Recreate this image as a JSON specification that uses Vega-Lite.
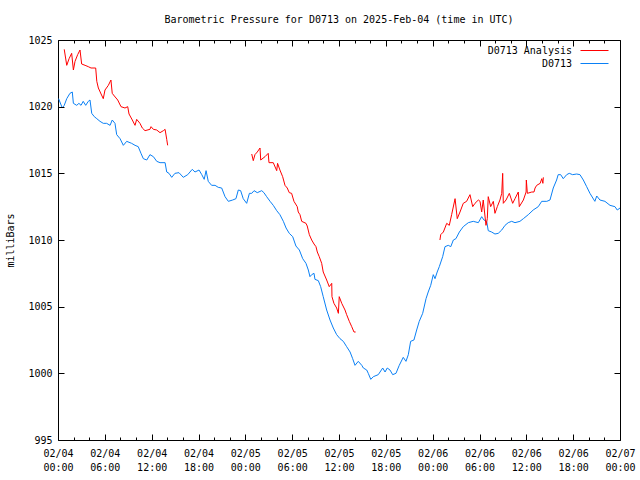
{
  "$schema": "https://vega.github.io/schema/vega-lite/v6.json",
  "width": 562,
  "height": 400,
  "autosize": "none",
  "padding": {"left": 58, "top": 40, "right": 20, "bottom": 40},
  "background": "white",
  "title": {"text": "Barometric Pressure for D0713 on 2025-Feb-04 (time in UTC)", "font": "DejaVu Sans Mono", "fontSize": 10, "fontWeight": "normal", "anchor": "middle", "offset": 10, "color": "black"},
  "config": {"view": {"stroke": "black", "strokeWidth": 1}, "font": "DejaVu Sans Mono"},
  "datasets": {
    "blue": [
      {"s":"D0713","h":0.08,"p":1020.6},{"s":"D0713","h":0.55,"p":1019.9},{"s":"D0713","h":0.8,"p":1020.1},{"s":"D0713","h":1.12,"p":1020.6},{"s":"D0713","h":1.53,"p":1021.0},{"s":"D0713","h":1.83,"p":1021.1},{"s":"D0713","h":1.97,"p":1020.25},{"s":"D0713","h":2.4,"p":1020.1},{"s":"D0713","h":2.68,"p":1020.25},{"s":"D0713","h":2.95,"p":1020.1},{"s":"D0713","h":3.23,"p":1020.4},{"s":"D0713","h":3.55,"p":1020.1},{"s":"D0713","h":3.88,"p":1020.4},{"s":"D0713","h":4.1,"p":1020.5},{"s":"D0713","h":4.32,"p":1019.5},{"s":"D0713","h":4.65,"p":1019.25},{"s":"D0713","h":4.97,"p":1019.1},{"s":"D0713","h":5.38,"p":1018.9},{"s":"D0713","h":5.8,"p":1018.75},{"s":"D0713","h":6.23,"p":1018.75},{"s":"D0713","h":6.67,"p":1018.6},{"s":"D0713","h":6.95,"p":1019.0},{"s":"D0713","h":7.3,"p":1018.75},{"s":"D0713","h":7.52,"p":1017.9},{"s":"D0713","h":7.95,"p":1017.6},{"s":"D0713","h":8.37,"p":1017.1},{"s":"D0713","h":8.8,"p":1017.4},{"s":"D0713","h":9.43,"p":1017.25},{"s":"D0713","h":9.87,"p":1017.1},{"s":"D0713","h":10.28,"p":1017.0},{"s":"D0713","h":10.63,"p":1016.5},{"s":"D0713","h":10.93,"p":1016.1},{"s":"D0713","h":11.37,"p":1016.0},{"s":"D0713","h":11.78,"p":1016.4},{"s":"D0713","h":12.22,"p":1016.25},{"s":"D0713","h":12.65,"p":1015.9},{"s":"D0713","h":13.07,"p":1015.8},{"s":"D0713","h":13.72,"p":1015.8},{"s":"D0713","h":13.93,"p":1015.1},{"s":"D0713","h":14.22,"p":1015.0},{"s":"D0713","h":14.57,"p":1014.7},{"s":"D0713","h":14.98,"p":1015.0},{"s":"D0713","h":15.5,"p":1015.05},{"s":"D0713","h":16.05,"p":1014.7},{"s":"D0713","h":16.62,"p":1014.9},{"s":"D0713","h":17.2,"p":1015.3},{"s":"D0713","h":17.55,"p":1015.1},{"s":"D0713","h":18.07,"p":1015.25},{"s":"D0713","h":18.42,"p":1014.9},{"s":"D0713","h":18.73,"p":1014.55},{"s":"D0713","h":18.97,"p":1015.2},{"s":"D0713","h":19.25,"p":1014.4},{"s":"D0713","h":19.68,"p":1014.1},{"s":"D0713","h":20.12,"p":1014.1},{"s":"D0713","h":20.53,"p":1013.95},{"s":"D0713","h":20.97,"p":1013.9},{"s":"D0713","h":21.4,"p":1013.25},{"s":"D0713","h":21.82,"p":1012.9},{"s":"D0713","h":22.38,"p":1013.0},{"s":"D0713","h":22.8,"p":1013.1},{"s":"D0713","h":23.1,"p":1013.75},{"s":"D0713","h":23.4,"p":1013.7},{"s":"D0713","h":23.73,"p":1013.1},
      {"s":"D0713","h":24.17,"p":1012.75},{"s":"D0713","h":24.52,"p":1013.5},{"s":"D0713","h":24.82,"p":1013.5},{"s":"D0713","h":25.12,"p":1013.7},{"s":"D0713","h":25.53,"p":1013.55},{"s":"D0713","h":26.1,"p":1013.7},{"s":"D0713","h":26.38,"p":1013.55},{"s":"D0713","h":26.73,"p":1013.25},{"s":"D0713","h":27.17,"p":1012.9},{"s":"D0713","h":27.58,"p":1012.6},{"s":"D0713","h":28.02,"p":1012.2},{"s":"D0713","h":28.43,"p":1011.9},{"s":"D0713","h":28.87,"p":1011.4},{"s":"D0713","h":29.22,"p":1010.9},{"s":"D0713","h":29.63,"p":1010.5},{"s":"D0713","h":30.07,"p":1010.25},{"s":"D0713","h":30.48,"p":1009.55},{"s":"D0713","h":30.92,"p":1009.25},{"s":"D0713","h":31.35,"p":1008.6},{"s":"D0713","h":31.77,"p":1008.25},{"s":"D0713","h":32.07,"p":1007.75},{"s":"D0713","h":32.28,"p":1007.25},{"s":"D0713","h":32.5,"p":1007.4},{"s":"D0713","h":32.8,"p":1007.5},{"s":"D0713","h":32.92,"p":1007.05},{"s":"D0713","h":33.35,"p":1006.95},{"s":"D0713","h":33.65,"p":1006.5},{"s":"D0713","h":33.98,"p":1005.75},{"s":"D0713","h":34.42,"p":1004.75},{"s":"D0713","h":34.85,"p":1004.0},{"s":"D0713","h":35.27,"p":1003.4},{"s":"D0713","h":35.7,"p":1002.9},{"s":"D0713","h":36.13,"p":1002.6},{"s":"D0713","h":36.55,"p":1002.4},{"s":"D0713","h":36.98,"p":1002.0},{"s":"D0713","h":37.42,"p":1001.6},{"s":"D0713","h":37.75,"p":1001.1},{"s":"D0713","h":38.05,"p":1000.6},{"s":"D0713","h":38.47,"p":1000.9},{"s":"D0713","h":38.92,"p":1000.6},{"s":"D0713","h":39.12,"p":1000.4},{"s":"D0713","h":39.55,"p":1000.25},{"s":"D0713","h":39.75,"p":1000.0},{"s":"D0713","h":40.07,"p":999.55},{"s":"D0713","h":40.4,"p":999.75},{"s":"D0713","h":41.03,"p":999.9},{"s":"D0713","h":41.6,"p":1000.4},{"s":"D0713","h":41.9,"p":1000.1},{"s":"D0713","h":42.18,"p":1000.4},{"s":"D0713","h":42.53,"p":1000.25},{"s":"D0713","h":42.88,"p":999.9},{"s":"D0713","h":43.3,"p":1000.0},{"s":"D0713","h":43.72,"p":1000.6},{"s":"D0713","h":44.23,"p":1001.2},{"s":"D0713","h":44.58,"p":1000.9},{"s":"D0713","h":44.88,"p":1001.4},{"s":"D0713","h":45.18,"p":1002.4},{"s":"D0713","h":45.6,"p":1002.5},{"s":"D0713","h":45.95,"p":1003.25},{"s":"D0713","h":46.28,"p":1003.9},{"s":"D0713","h":46.72,"p":1004.5},{"s":"D0713","h":47.15,"p":1005.6},{"s":"D0713","h":47.43,"p":1006.1},{"s":"D0713","h":47.75,"p":1006.6},
      {"s":"D0713","h":48.08,"p":1007.4},{"s":"D0713","h":48.3,"p":1007.1},{"s":"D0713","h":48.58,"p":1007.6},{"s":"D0713","h":48.85,"p":1008.0},{"s":"D0713","h":49.28,"p":1008.75},{"s":"D0713","h":49.58,"p":1009.5},{"s":"D0713","h":50.0,"p":1009.6},{"s":"D0713","h":50.32,"p":1009.5},{"s":"D0713","h":50.65,"p":1010.0},{"s":"D0713","h":50.98,"p":1010.1},{"s":"D0713","h":51.42,"p":1010.6},{"s":"D0713","h":51.92,"p":1011.0},{"s":"D0713","h":52.57,"p":1011.3},{"s":"D0713","h":53.2,"p":1011.4},{"s":"D0713","h":53.85,"p":1011.3},{"s":"D0713","h":54.28,"p":1011.75},{"s":"D0713","h":54.57,"p":1011.5},{"s":"D0713","h":54.92,"p":1011.4},{"s":"D0713","h":55.12,"p":1010.7},{"s":"D0713","h":55.55,"p":1010.6},{"s":"D0713","h":55.98,"p":1010.45},{"s":"D0713","h":56.4,"p":1010.5},{"s":"D0713","h":56.85,"p":1010.75},{"s":"D0713","h":57.27,"p":1011.1},{"s":"D0713","h":57.68,"p":1011.3},{"s":"D0713","h":58.12,"p":1011.4},{"s":"D0713","h":58.55,"p":1011.3},{"s":"D0713","h":59.18,"p":1011.4},{"s":"D0713","h":59.62,"p":1011.6},{"s":"D0713","h":60.25,"p":1011.9},{"s":"D0713","h":60.88,"p":1012.25},{"s":"D0713","h":61.53,"p":1012.5},{"s":"D0713","h":61.97,"p":1012.9},{"s":"D0713","h":62.62,"p":1012.9},{"s":"D0713","h":63.03,"p":1013.0},{"s":"D0713","h":63.45,"p":1013.9},{"s":"D0713","h":63.88,"p":1014.5},{"s":"D0713","h":64.08,"p":1014.9},{"s":"D0713","h":64.4,"p":1014.9},{"s":"D0713","h":64.73,"p":1014.6},{"s":"D0713","h":65.17,"p":1014.9},{"s":"D0713","h":65.5,"p":1015.0},{"s":"D0713","h":65.93,"p":1014.9},{"s":"D0713","h":66.45,"p":1014.95},{"s":"D0713","h":66.87,"p":1014.9},{"s":"D0713","h":67.3,"p":1014.5},{"s":"D0713","h":67.73,"p":1014.0},{"s":"D0713","h":68.15,"p":1013.5},{"s":"D0713","h":68.78,"p":1012.9},{"s":"D0713","h":69.02,"p":1013.3},{"s":"D0713","h":69.43,"p":1013.0},{"s":"D0713","h":70.07,"p":1012.9},{"s":"D0713","h":70.72,"p":1012.6},{"s":"D0713","h":71.35,"p":1012.5},{"s":"D0713","h":71.65,"p":1012.25},{"s":"D0713","h":72.0,"p":1012.4}
    ],
    "red": [
      {"s":"D0713 Analysis","g":1,"h":0.8,"p":1024.3},{"s":"D0713 Analysis","g":1,"h":1.12,"p":1023.1},{"s":"D0713 Analysis","g":1,"h":1.42,"p":1023.6},{"s":"D0713 Analysis","g":1,"h":1.75,"p":1024.0},{"s":"D0713 Analysis","g":1,"h":1.97,"p":1022.75},{"s":"D0713 Analysis","g":1,"h":2.18,"p":1023.4},{"s":"D0713 Analysis","g":1,"h":2.52,"p":1023.9},{"s":"D0713 Analysis","g":1,"h":2.82,"p":1024.25},{"s":"D0713 Analysis","g":1,"h":3.03,"p":1023.2},{"s":"D0713 Analysis","g":1,"h":3.47,"p":1023.1},{"s":"D0713 Analysis","g":1,"h":3.88,"p":1023.0},{"s":"D0713 Analysis","g":1,"h":4.23,"p":1022.9},{"s":"D0713 Analysis","g":1,"h":4.83,"p":1022.9},{"s":"D0713 Analysis","g":1,"h":4.97,"p":1021.9},{"s":"D0713 Analysis","g":1,"h":5.17,"p":1021.4},{"s":"D0713 Analysis","g":1,"h":5.52,"p":1020.95},{"s":"D0713 Analysis","g":1,"h":5.8,"p":1020.6},{"s":"D0713 Analysis","g":1,"h":6.02,"p":1021.25},{"s":"D0713 Analysis","g":1,"h":6.45,"p":1021.6},{"s":"D0713 Analysis","g":1,"h":6.78,"p":1022.0},{"s":"D0713 Analysis","g":1,"h":6.95,"p":1021.0},{"s":"D0713 Analysis","g":1,"h":7.22,"p":1020.8},{"s":"D0713 Analysis","g":1,"h":7.65,"p":1020.5},{"s":"D0713 Analysis","g":1,"h":8.07,"p":1020.0},{"s":"D0713 Analysis","g":1,"h":8.58,"p":1019.9},{"s":"D0713 Analysis","g":1,"h":8.93,"p":1020.0},{"s":"D0713 Analysis","g":1,"h":9.1,"p":1019.45},{"s":"D0713 Analysis","g":1,"h":9.52,"p":1019.0},{"s":"D0713 Analysis","g":1,"h":9.87,"p":1018.6},{"s":"D0713 Analysis","g":1,"h":10.08,"p":1019.05},{"s":"D0713 Analysis","g":1,"h":10.5,"p":1018.75},{"s":"D0713 Analysis","g":1,"h":10.8,"p":1018.4},{"s":"D0713 Analysis","g":1,"h":11.15,"p":1018.2},{"s":"D0713 Analysis","g":1,"h":11.78,"p":1018.3},{"s":"D0713 Analysis","g":1,"h":11.92,"p":1018.5},{"s":"D0713 Analysis","g":1,"h":12.22,"p":1018.3},{"s":"D0713 Analysis","g":1,"h":12.65,"p":1018.25},{"s":"D0713 Analysis","g":1,"h":13.07,"p":1018.05},{"s":"D0713 Analysis","g":1,"h":13.5,"p":1018.2},{"s":"D0713 Analysis","g":1,"h":13.72,"p":1018.3},{"s":"D0713 Analysis","g":1,"h":13.93,"p":1017.55},{"s":"D0713 Analysis","g":1,"h":14.05,"p":1017.1},
      {"s":"D0713 Analysis","g":2,"h":24.82,"p":1016.45},{"s":"D0713 Analysis","g":2,"h":25.02,"p":1015.95},{"s":"D0713 Analysis","g":2,"h":25.23,"p":1016.4},{"s":"D0713 Analysis","g":2,"h":25.53,"p":1016.6},{"s":"D0713 Analysis","g":2,"h":25.88,"p":1016.9},{"s":"D0713 Analysis","g":2,"h":25.97,"p":1016.0},{"s":"D0713 Analysis","g":2,"h":26.52,"p":1016.25},{"s":"D0713 Analysis","g":2,"h":26.93,"p":1016.5},{"s":"D0713 Analysis","g":2,"h":27.03,"p":1015.8},{"s":"D0713 Analysis","g":2,"h":27.58,"p":1015.8},{"s":"D0713 Analysis","g":2,"h":28.02,"p":1015.2},{"s":"D0713 Analysis","g":2,"h":28.13,"p":1015.75},{"s":"D0713 Analysis","g":2,"h":28.43,"p":1015.25},{"s":"D0713 Analysis","g":2,"h":28.78,"p":1014.75},{"s":"D0713 Analysis","g":2,"h":29.08,"p":1014.1},{"s":"D0713 Analysis","g":2,"h":29.37,"p":1013.9},{"s":"D0713 Analysis","g":2,"h":29.63,"p":1013.55},{"s":"D0713 Analysis","g":2,"h":29.93,"p":1013.5},{"s":"D0713 Analysis","g":2,"h":30.23,"p":1012.9},{"s":"D0713 Analysis","g":2,"h":30.65,"p":1012.5},{"s":"D0713 Analysis","g":2,"h":30.78,"p":1012.1},{"s":"D0713 Analysis","g":2,"h":31.0,"p":1011.9},{"s":"D0713 Analysis","g":2,"h":31.22,"p":1011.4},{"s":"D0713 Analysis","g":2,"h":31.77,"p":1011.25},{"s":"D0713 Analysis","g":2,"h":31.93,"p":1011.05},{"s":"D0713 Analysis","g":2,"h":32.2,"p":1010.4},{"s":"D0713 Analysis","g":2,"h":32.5,"p":1010.0},{"s":"D0713 Analysis","g":2,"h":32.8,"p":1009.7},{"s":"D0713 Analysis","g":2,"h":33.05,"p":1009.5},{"s":"D0713 Analysis","g":2,"h":33.22,"p":1009.1},{"s":"D0713 Analysis","g":2,"h":33.47,"p":1008.75},{"s":"D0713 Analysis","g":2,"h":33.78,"p":1008.25},{"s":"D0713 Analysis","g":2,"h":33.98,"p":1007.6},{"s":"D0713 Analysis","g":2,"h":34.42,"p":1007.0},{"s":"D0713 Analysis","g":2,"h":34.75,"p":1006.5},{"s":"D0713 Analysis","g":2,"h":35.07,"p":1006.75},{"s":"D0713 Analysis","g":2,"h":35.1,"p":1005.75},{"s":"D0713 Analysis","g":2,"h":35.35,"p":1005.25},{"s":"D0713 Analysis","g":2,"h":35.7,"p":1004.9},{"s":"D0713 Analysis","g":2,"h":35.92,"p":1004.5},{"s":"D0713 Analysis","g":2,"h":36.03,"p":1005.75},{"s":"D0713 Analysis","g":2,"h":36.35,"p":1005.25},{"s":"D0713 Analysis","g":2,"h":36.77,"p":1004.75},{"s":"D0713 Analysis","g":2,"h":36.98,"p":1004.4},{"s":"D0713 Analysis","g":2,"h":37.32,"p":1003.9},{"s":"D0713 Analysis","g":2,"h":37.63,"p":1003.5},{"s":"D0713 Analysis","g":2,"h":37.92,"p":1003.1},{"s":"D0713 Analysis","g":2,"h":38.13,"p":1003.1},
      {"s":"D0713 Analysis","g":3,"h":48.93,"p":1010.0},{"s":"D0713 Analysis","g":3,"h":49.03,"p":1010.4},{"s":"D0713 Analysis","g":3,"h":49.37,"p":1010.6},{"s":"D0713 Analysis","g":3,"h":49.8,"p":1011.25},{"s":"D0713 Analysis","g":3,"h":50.13,"p":1011.1},{"s":"D0713 Analysis","g":3,"h":50.43,"p":1011.9},{"s":"D0713 Analysis","g":3,"h":50.87,"p":1013.1},{"s":"D0713 Analysis","g":3,"h":51.15,"p":1011.6},{"s":"D0713 Analysis","g":3,"h":51.5,"p":1012.1},{"s":"D0713 Analysis","g":3,"h":51.92,"p":1012.75},{"s":"D0713 Analysis","g":3,"h":52.35,"p":1012.9},{"s":"D0713 Analysis","g":3,"h":52.78,"p":1013.4},{"s":"D0713 Analysis","g":3,"h":53.13,"p":1012.5},{"s":"D0713 Analysis","g":3,"h":53.42,"p":1012.75},{"s":"D0713 Analysis","g":3,"h":53.85,"p":1013.0},{"s":"D0713 Analysis","g":3,"h":54.07,"p":1012.9},{"s":"D0713 Analysis","g":3,"h":54.28,"p":1012.1},{"s":"D0713 Analysis","g":3,"h":54.48,"p":1013.0},{"s":"D0713 Analysis","g":3,"h":54.83,"p":1011.1},{"s":"D0713 Analysis","g":3,"h":55.0,"p":1011.6},{"s":"D0713 Analysis","g":3,"h":55.12,"p":1013.25},{"s":"D0713 Analysis","g":3,"h":55.43,"p":1012.5},{"s":"D0713 Analysis","g":3,"h":55.77,"p":1012.9},{"s":"D0713 Analysis","g":3,"h":55.98,"p":1012.0},{"s":"D0713 Analysis","g":3,"h":56.28,"p":1012.5},{"s":"D0713 Analysis","g":3,"h":56.62,"p":1013.0},{"s":"D0713 Analysis","g":3,"h":56.85,"p":1013.5},{"s":"D0713 Analysis","g":3,"h":56.97,"p":1015.0},{"s":"D0713 Analysis","g":3,"h":57.05,"p":1012.75},{"s":"D0713 Analysis","g":3,"h":57.4,"p":1013.0},{"s":"D0713 Analysis","g":3,"h":57.82,"p":1013.5},{"s":"D0713 Analysis","g":3,"h":58.25,"p":1012.75},{"s":"D0713 Analysis","g":3,"h":58.55,"p":1013.1},{"s":"D0713 Analysis","g":3,"h":58.97,"p":1013.6},{"s":"D0713 Analysis","g":3,"h":59.1,"p":1012.5},{"s":"D0713 Analysis","g":3,"h":59.62,"p":1013.0},{"s":"D0713 Analysis","g":3,"h":59.97,"p":1013.6},{"s":"D0713 Analysis","g":3,"h":60.0,"p":1014.5},{"s":"D0713 Analysis","g":3,"h":60.13,"p":1013.5},{"s":"D0713 Analysis","g":3,"h":60.7,"p":1013.6},{"s":"D0713 Analysis","g":3,"h":60.98,"p":1013.6},{"s":"D0713 Analysis","g":3,"h":61.12,"p":1013.9},{"s":"D0713 Analysis","g":3,"h":61.33,"p":1014.1},{"s":"D0713 Analysis","g":3,"h":61.77,"p":1014.25},{"s":"D0713 Analysis","g":3,"h":61.98,"p":1014.6},{"s":"D0713 Analysis","g":3,"h":62.12,"p":1014.25},{"s":"D0713 Analysis","g":3,"h":62.18,"p":1014.7}
    ]
  },
  "layer": [
    {
      "data": {"name": "blue"},
      "mark": {"type": "line", "strokeWidth": 1},
      "encoding": {
        "x": {"field": "h", "type": "quantitative",
          "scale": {"domain": [0, 72], "nice": false, "zero": false},
          "axis": {"orient": "bottom", "title": null, "domain": false, "grid": false, "offset": -6, "zindex": 1, "ticks": true,
            "values": [0, 2, 4, 6, 8, 10, 12, 14, 16, 18, 20, 22, 24, 26, 28, 30, 32, 34, 36, 38, 40, 42, 44, 46, 48, 50, 52, 54, 56, 58, 60, 62, 64, 66, 68, 70, 72],
            "tickColor": "black", "tickSize": 6, "tickWidth": 1, "tickOpacity": 1,
            "tickDash": {"condition": {"test": "datum.value % 6 == 0", "value": []}, "value": [0, 3, 3]},
            "labelExpr": "datum.value % 6 == 0 ? ['02/0' + (4 + floor(datum.value / 24)), (datum.value % 24 < 10 ? '0' : '') + (datum.value % 24) + ':00'] : ''",
            "labelFont": "DejaVu Sans Mono", "labelFontSize": 10, "labelColor": "black", "labelLineHeight": 14,
            "labelPadding": 8, "labelFlush": false, "labelOverlap": false}},
        "y": {"field": "p", "type": "quantitative",
          "scale": {"domain": [995, 1025], "nice": false, "zero": false},
          "axis": {"orient": "left", "title": "milliBars", "domain": false, "grid": false, "offset": -6, "zindex": 1, "ticks": true,
            "values": [995, 1000, 1005, 1010, 1015, 1020, 1025], "format": "d",
            "tickColor": "black", "tickSize": 6, "tickWidth": 1, "tickOpacity": 1, "labelPadding": 6,
            "labelFont": "DejaVu Sans Mono", "labelFontSize": 10, "labelColor": "black",
            "titleFont": "DejaVu Sans Mono", "titleFontSize": 10, "titleFontWeight": "normal", "titleColor": "black", "titlePadding": 12}},
        "color": {"field": "s", "type": "nominal",
          "scale": {"domain": ["D0713 Analysis", "D0713"], "range": ["#ff0000", "#0a80f5"]},
          "legend": {"orient": "top-right", "title": null, "symbolType": "M-2,0H2M2.85,0", "symbolSize": 196, "symbolStrokeWidth": 1,
            "labelFont": "DejaVu Sans Mono", "labelFontSize": 10, "labelColor": "black", "labelAlign": "right", "labelOffset": -30,
            "rowPadding": -2, "offset": 3, "padding": 0}}
      }
    },
    {
      "data": {"name": "red"},
      "mark": {"type": "line", "strokeWidth": 1},
      "encoding": {
        "x": {"field": "h", "type": "quantitative",
          "axis": {"orient": "top", "title": null, "domain": false, "grid": false, "labels": false, "offset": -6, "zindex": 1, "ticks": true,
            "values": [0, 2, 4, 6, 8, 10, 12, 14, 16, 18, 20, 22, 24, 26, 28, 30, 32, 34, 36, 38, 40, 42, 44, 46, 48, 50, 52, 54, 56, 58, 60, 62, 64, 66, 68, 70, 72],
            "tickColor": "black", "tickSize": 6, "tickWidth": 1, "tickOpacity": 1,
            "tickDash": {"condition": {"test": "datum.value % 6 == 0", "value": []}, "value": [0, 3, 3]}}},
        "y": {"field": "p", "type": "quantitative",
          "axis": {"orient": "right", "title": null, "domain": false, "grid": false, "labels": false, "offset": -6, "zindex": 1, "ticks": true,
            "values": [995, 1000, 1005, 1010, 1015, 1020, 1025],
            "tickColor": "black", "tickSize": 6, "tickWidth": 1, "tickOpacity": 1}},
        "color": {"field": "s", "type": "nominal"},
        "detail": {"field": "g", "type": "nominal"}
      }
    }
  ],
  "resolve": {"axis": {"x": "independent", "y": "independent"}}
}
